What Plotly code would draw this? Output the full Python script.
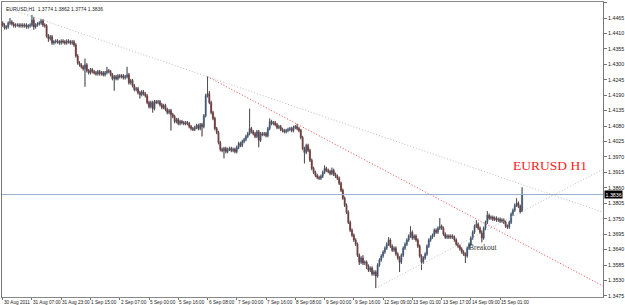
import plotly.graph_objects as go

# ---------------- data (EURUSD H1) ----------------
first_open = 1.4447
closes = [
    1.4440, 1.4430, 1.4433, 1.4447, 1.4451, 1.4444, 1.4437, 1.4440, 1.4440, 1.4437,
    1.4440, 1.4437, 1.4440, 1.4433, 1.4437, 1.4440, 1.4458, 1.4433, 1.4440, 1.4444,
    1.4447, 1.4455, 1.4440, 1.4437, 1.4401, 1.4391, 1.4398, 1.4376, 1.4380, 1.4383,
    1.4380, 1.4376, 1.4383, 1.4380, 1.4376, 1.4383, 1.4380, 1.4376, 1.4380, 1.4369,
    1.4330, 1.4305, 1.4298, 1.4291, 1.4284, 1.4298, 1.4277, 1.4270, 1.4281, 1.4274,
    1.4270, 1.4266, 1.4274, 1.4266, 1.4270, 1.4263, 1.4270, 1.4277, 1.4274, 1.4263,
    1.4249, 1.4256, 1.4249, 1.4259, 1.4256, 1.4259, 1.4252, 1.4256, 1.4263, 1.4234,
    1.4242, 1.4224, 1.4210, 1.4213, 1.4199, 1.4192, 1.4202, 1.4195, 1.4188, 1.4164,
    1.4149, 1.4164, 1.4142, 1.4167, 1.4164, 1.4167, 1.4156, 1.4146, 1.4153, 1.4139,
    1.4128, 1.4135, 1.4121, 1.4114, 1.4096, 1.4103, 1.4089, 1.4096, 1.4092, 1.4089,
    1.4092, 1.4089, 1.4078, 1.4071, 1.4068, 1.4075, 1.4082, 1.4071, 1.4085, 1.4078,
    1.4117, 1.4188, 1.4195, 1.4164, 1.4128, 1.4107, 1.4071, 1.4057, 1.4021, 1.3997,
    1.3993, 1.4000, 1.3989, 1.3997, 1.4000, 1.3993, 1.3997, 1.3989, 1.4004, 1.4018,
    1.4011, 1.4025, 1.4032, 1.4043, 1.4053, 1.4071, 1.4060, 1.4053, 1.4043, 1.4060,
    1.4029, 1.4053, 1.4050, 1.4053, 1.4046, 1.4071, 1.4096, 1.4089, 1.4092, 1.4085,
    1.4075, 1.4078, 1.4068, 1.4064, 1.4060, 1.4064, 1.4068, 1.4071, 1.4064, 1.4075,
    1.4078, 1.4071, 1.4064, 1.4039, 1.4000, 1.3986, 1.4011, 1.3993, 1.3958, 1.3929,
    1.3915, 1.3904, 1.3897, 1.3894, 1.3901, 1.3915, 1.3929, 1.3922, 1.3918, 1.3911,
    1.3922, 1.3908, 1.3901, 1.3894, 1.3876, 1.3851, 1.3823, 1.3798, 1.3773, 1.3737,
    1.3709, 1.3691, 1.3674, 1.3659, 1.3620, 1.3595, 1.3610, 1.3592, 1.3595, 1.3581,
    1.3567, 1.3574, 1.3553, 1.3560, 1.3546, 1.3585, 1.3603, 1.3617, 1.3631, 1.3645,
    1.3659, 1.3674, 1.3652, 1.3638, 1.3645, 1.3624, 1.3610, 1.3595, 1.3620, 1.3645,
    1.3659, 1.3674, 1.3688, 1.3702, 1.3681, 1.3688, 1.3674, 1.3652, 1.3617, 1.3595,
    1.3610, 1.3624, 1.3652, 1.3674, 1.3684, 1.3691, 1.3709, 1.3702, 1.3716, 1.3723,
    1.3716, 1.3695, 1.3684, 1.3688, 1.3684, 1.3688, 1.3684, 1.3674, 1.3659, 1.3652,
    1.3642, 1.3631, 1.3624, 1.3617, 1.3645, 1.3659, 1.3681, 1.3702, 1.3723, 1.3730,
    1.3716, 1.3702, 1.3681, 1.3716, 1.3737, 1.3762, 1.3752, 1.3755, 1.3748, 1.3752,
    1.3745, 1.3748, 1.3741, 1.3745, 1.3737, 1.3723, 1.3720, 1.3737, 1.3766, 1.3780,
    1.3798, 1.3805, 1.3794, 1.3774, 1.3836,
]
highs = [
    1.4453, 1.4446, 1.4439, 1.4453, 1.4465, 1.4457, 1.4450, 1.4446, 1.4446, 1.4446,
    1.4446, 1.4446, 1.4446, 1.4446, 1.4443, 1.4446, 1.4476, 1.4469, 1.4446, 1.4450,
    1.4453, 1.4462, 1.4461, 1.4446, 1.4443, 1.4408, 1.4404, 1.4404, 1.4386, 1.4389,
    1.4389, 1.4386, 1.4389, 1.4389, 1.4386, 1.4389, 1.4389, 1.4386, 1.4386, 1.4386,
    1.4375, 1.4336, 1.4311, 1.4304, 1.4297, 1.4320, 1.4304, 1.4283, 1.4287, 1.4287,
    1.4280, 1.4276, 1.4280, 1.4280, 1.4276, 1.4276, 1.4276, 1.4291, 1.4283, 1.4280,
    1.4269, 1.4262, 1.4262, 1.4265, 1.4265, 1.4265, 1.4265, 1.4262, 1.4291, 1.4269,
    1.4248, 1.4248, 1.4230, 1.4219, 1.4219, 1.4205, 1.4208, 1.4208, 1.4201, 1.4194,
    1.4170, 1.4170, 1.4170, 1.4173, 1.4173, 1.4173, 1.4173, 1.4162, 1.4159, 1.4159,
    1.4145, 1.4141, 1.4141, 1.4127, 1.4120, 1.4109, 1.4109, 1.4102, 1.4102, 1.4098,
    1.4098, 1.4098, 1.4095, 1.4084, 1.4077, 1.4081, 1.4088, 1.4088, 1.4091, 1.4091,
    1.4123, 1.4195, 1.4256, 1.4205, 1.4170, 1.4134, 1.4113, 1.4077, 1.4063, 1.4027,
    1.4003, 1.4006, 1.4006, 1.4003, 1.4006, 1.4006, 1.4003, 1.4003, 1.4010, 1.4024,
    1.4024, 1.4031, 1.4038, 1.4049, 1.4059, 1.4142, 1.4077, 1.4066, 1.4059, 1.4066,
    1.4066, 1.4059, 1.4059, 1.4059, 1.4059, 1.4077, 1.4107, 1.4102, 1.4098, 1.4098,
    1.4091, 1.4084, 1.4084, 1.4074, 1.4070, 1.4070, 1.4074, 1.4077, 1.4077, 1.4081,
    1.4084, 1.4088, 1.4077, 1.4070, 1.4045, 1.4006, 1.4017, 1.4017, 1.3999, 1.3964,
    1.3935, 1.3921, 1.3910, 1.3903, 1.3907, 1.3921, 1.3940, 1.3935, 1.3928, 1.3924,
    1.3932, 1.3928, 1.3914, 1.3907, 1.3900, 1.3882, 1.3857, 1.3829, 1.3804, 1.3779,
    1.3743, 1.3715, 1.3697, 1.3680, 1.3665, 1.3626, 1.3616, 1.3620, 1.3601, 1.3601,
    1.3587, 1.3580, 1.3580, 1.3566, 1.3566, 1.3591, 1.3609, 1.3623, 1.3637, 1.3651,
    1.3665, 1.3684, 1.3680, 1.3658, 1.3651, 1.3651, 1.3630, 1.3616, 1.3626, 1.3651,
    1.3665, 1.3680, 1.3694, 1.3723, 1.3708, 1.3694, 1.3694, 1.3680, 1.3658, 1.3623,
    1.3616, 1.3630, 1.3658, 1.3680, 1.3690, 1.3697, 1.3715, 1.3715, 1.3722, 1.3752,
    1.3729, 1.3722, 1.3701, 1.3694, 1.3694, 1.3694, 1.3694, 1.3690, 1.3680, 1.3665,
    1.3658, 1.3648, 1.3637, 1.3630, 1.3651, 1.3665, 1.3687, 1.3708, 1.3729, 1.3745,
    1.3736, 1.3722, 1.3708, 1.3722, 1.3743, 1.3777, 1.3768, 1.3761, 1.3761, 1.3758,
    1.3758, 1.3754, 1.3754, 1.3751, 1.3751, 1.3743, 1.3729, 1.3743, 1.3772, 1.3786,
    1.3804, 1.3823, 1.3811, 1.3800, 1.3862,
]
lows = [
    1.4434, 1.4424, 1.4424, 1.4427, 1.4441, 1.4438, 1.4431, 1.4431, 1.4434, 1.4431,
    1.4431, 1.4431, 1.4431, 1.4427, 1.4427, 1.4431, 1.4434, 1.4423, 1.4427, 1.4434,
    1.4438, 1.4441, 1.4434, 1.4431, 1.4395, 1.4380, 1.4385, 1.4370, 1.4370, 1.4374,
    1.4374, 1.4370, 1.4370, 1.4374, 1.4370, 1.4370, 1.4374, 1.4370, 1.4370, 1.4363,
    1.4324, 1.4299, 1.4292, 1.4285, 1.4278, 1.4220, 1.4271, 1.4264, 1.4264, 1.4268,
    1.4264, 1.4260, 1.4260, 1.4260, 1.4260, 1.4257, 1.4257, 1.4264, 1.4268, 1.4257,
    1.4243, 1.4206, 1.4243, 1.4243, 1.4250, 1.4250, 1.4246, 1.4246, 1.4250, 1.4228,
    1.4228, 1.4218, 1.4204, 1.4204, 1.4193, 1.4178, 1.4186, 1.4189, 1.4182, 1.4158,
    1.4143, 1.4143, 1.4128, 1.4136, 1.4158, 1.4158, 1.4150, 1.4140, 1.4140, 1.4133,
    1.4122, 1.4122, 1.4064, 1.4108, 1.4090, 1.4090, 1.4083, 1.4083, 1.4086, 1.4083,
    1.4083, 1.4083, 1.4072, 1.4065, 1.4062, 1.4062, 1.4069, 1.4065, 1.4065, 1.4043,
    1.4072, 1.4111, 1.4182, 1.4158, 1.4122, 1.4101, 1.4065, 1.4051, 1.4015, 1.3990,
    1.3987, 1.3965, 1.3983, 1.3983, 1.3991, 1.3987, 1.3987, 1.3983, 1.3983, 1.3998,
    1.4005, 1.4005, 1.4019, 1.4026, 1.4037, 1.4047, 1.4054, 1.4047, 1.4037, 1.4037,
    1.4004, 1.4023, 1.4044, 1.4044, 1.4040, 1.4040, 1.4065, 1.4083, 1.4083, 1.4079,
    1.4069, 1.4069, 1.4062, 1.4058, 1.4054, 1.4054, 1.4058, 1.4062, 1.4058, 1.4058,
    1.4069, 1.4065, 1.4058, 1.4033, 1.3994, 1.3947, 1.3980, 1.3987, 1.3952, 1.3923,
    1.3909, 1.3898, 1.3891, 1.3888, 1.3888, 1.3895, 1.3909, 1.3916, 1.3912, 1.3905,
    1.3905, 1.3902, 1.3895, 1.3888, 1.3870, 1.3845, 1.3817, 1.3792, 1.3767, 1.3731,
    1.3703, 1.3685, 1.3668, 1.3653, 1.3614, 1.3585, 1.3589, 1.3585, 1.3585, 1.3571,
    1.3560, 1.3560, 1.3547, 1.3547, 1.3503, 1.3540, 1.3579, 1.3597, 1.3611, 1.3625,
    1.3639, 1.3653, 1.3646, 1.3632, 1.3632, 1.3618, 1.3604, 1.3560, 1.3589, 1.3614,
    1.3639, 1.3653, 1.3668, 1.3682, 1.3675, 1.3675, 1.3668, 1.3646, 1.3611, 1.3567,
    1.3589, 1.3604, 1.3618, 1.3646, 1.3668, 1.3678, 1.3685, 1.3696, 1.3696, 1.3710,
    1.3710, 1.3689, 1.3678, 1.3678, 1.3678, 1.3678, 1.3678, 1.3668, 1.3653, 1.3646,
    1.3636, 1.3625, 1.3618, 1.3592, 1.3611, 1.3639, 1.3653, 1.3675, 1.3696, 1.3717,
    1.3710, 1.3696, 1.3666, 1.3675, 1.3710, 1.3731, 1.3746, 1.3746, 1.3742, 1.3742,
    1.3739, 1.3739, 1.3735, 1.3735, 1.3731, 1.3717, 1.3714, 1.3714, 1.3731, 1.3760,
    1.3774, 1.3792, 1.3788, 1.3769, 1.3774,
]
opens = [first_open] + closes[:-1]
bars = list(range(len(closes)))

time_tick_bars = [0, 16, 32, 48, 64, 80, 96, 112, 128, 144, 160, 176, 192, 208, 224, 240, 256, 272]
time_tick_labels = ["30 Aug 2011", "31 Aug 07:00", "31 Aug 23:00", "1 Sep 15:00", "2 Sep 07:00",
                    "5 Sep 00:00", "5 Sep 16:00", "6 Sep 08:00", "7 Sep 00:00", "7 Sep 16:00",
                    "8 Sep 08:00", "9 Sep 00:00", "9 Sep 16:00", "12 Sep 09:00", "13 Sep 01:00",
                    "13 Sep 17:00", "14 Sep 09:00", "15 Sep 01:00"]
price_ticks = [1.4520, 1.4465, 1.4410, 1.4355, 1.4300, 1.4245, 1.4190, 1.4135, 1.4080, 1.4025,
               1.3970, 1.3915, 1.3860, 1.3805, 1.3750, 1.3695, 1.3640, 1.3585, 1.3530, 1.3475]

last_price = 1.3836
header = "EURUSD,H1  1.3774 1.3862 1.3774 1.3836"

# trend lines (bar index, price)
upper_trend_x = [4, 328.25]
upper_trend_y = [1.4497, 1.3773]
red_trend_x = [112, 328.25]
red_trend_y = [1.4256, 1.3510]
support_trend_x = [204, 328.25]
support_trend_y = [1.3503, 1.3926]

x_range = [-0.38, 328.25]
y_range = [1.3471, 1.4522]

# ---------------- figure ----------------
fig = go.Figure()

# wicks
wx, wy = [], []
for i, h, l in zip(bars, highs, lows):
    wx += [i, i, None]
    wy += [l, h, None]
fig.add_trace(go.Scatter(x=wx, y=wy, mode="lines", line=dict(color="#505050", width=1),
                         hoverinfo="skip", showlegend=False))

fig.add_trace(go.Candlestick(
    x=bars, open=opens, high=highs, low=lows, close=closes,
    increasing=dict(fillcolor="#2f64a6", line=dict(color="#2f64a6", width=0.4)),
    decreasing=dict(fillcolor="#8a1519", line=dict(color="#8a1519", width=0.4)),
    whiskerwidth=0, showlegend=False,
))

fig.add_trace(go.Scatter(x=upper_trend_x, y=upper_trend_y, mode="lines",
                         line=dict(color="#bdbdbd", width=1, dash="1px,2px"), showlegend=False))
fig.add_trace(go.Scatter(x=red_trend_x, y=red_trend_y, mode="lines",
                         line=dict(color="#f04848", width=1, dash="1px,2px"), showlegend=False))
fig.add_trace(go.Scatter(x=support_trend_x, y=support_trend_y, mode="lines",
                         line=dict(color="#c2c2c2", width=1, dash="1px,2px"), showlegend=False))

fig.add_hline(y=last_price, line=dict(color="#98aeca", width=1))

annotations = []
for b, t in zip(time_tick_bars, time_tick_labels):
    annotations.append(dict(x=b, y=0, xref="x", yref="paper", text=t, showarrow=False,
                            xanchor="left", yanchor="top", xshift=-1, yshift=-1,
                            font=dict(family="Liberation Sans", size=4.7, color="#222")))
annotations.append(dict(x=1, y=last_price, xref="paper", yref="y", text=f"{last_price:.4f}",
                        showarrow=False, xanchor="left", yanchor="middle", xshift=1,
                        bgcolor="#000000", borderpad=0.5,
                        font=dict(family="Liberation Sans", size=5.3, color="#ffffff")))
annotations.append(dict(x=0, y=1, xref="paper", yref="paper", text=header, showarrow=False,
                        xanchor="left", yanchor="top", xshift=2, yshift=-2,
                        font=dict(family="Liberation Sans", size=5.0, color="#222")))
annotations.append(dict(x=299, y=1.3940, xref="x", yref="y", text="EURUSD H1", showarrow=False,
                        font=dict(family="Liberation Serif", size=13.5, color="#ff1a1a")))
annotations.append(dict(x=262.6, y=1.3649, xref="x", yref="y", text="Breakout", showarrow=False,
                        font=dict(family="Liberation Serif", size=7.5, color="#333")))

fig.update_layout(
    width=625, height=305,
    margin=dict(l=1, r=18, t=1, b=8),
    paper_bgcolor="white", plot_bgcolor="white",
    boxgap=0.0,
    showlegend=False,
    annotations=annotations,
    xaxis=dict(range=x_range, rangeslider=dict(visible=False), showgrid=False, zeroline=False,
               tickmode="array", tickvals=time_tick_bars, showticklabels=False,
               ticks="outside", ticklen=2, tickcolor="#777",
               showline=True, linecolor="#888", linewidth=1, mirror=True),
    yaxis=dict(range=y_range, side="right", showgrid=False, zeroline=False,
               tickmode="array", tickvals=price_ticks, tickformat=".4f",
               ticks="outside", ticklen=3, tickcolor="#777",
               tickfont=dict(family="Liberation Sans", size=5.3, color="#222"),
               showline=True, linecolor="#777", linewidth=1, mirror=True),
)

fig.write_html("out.html")
